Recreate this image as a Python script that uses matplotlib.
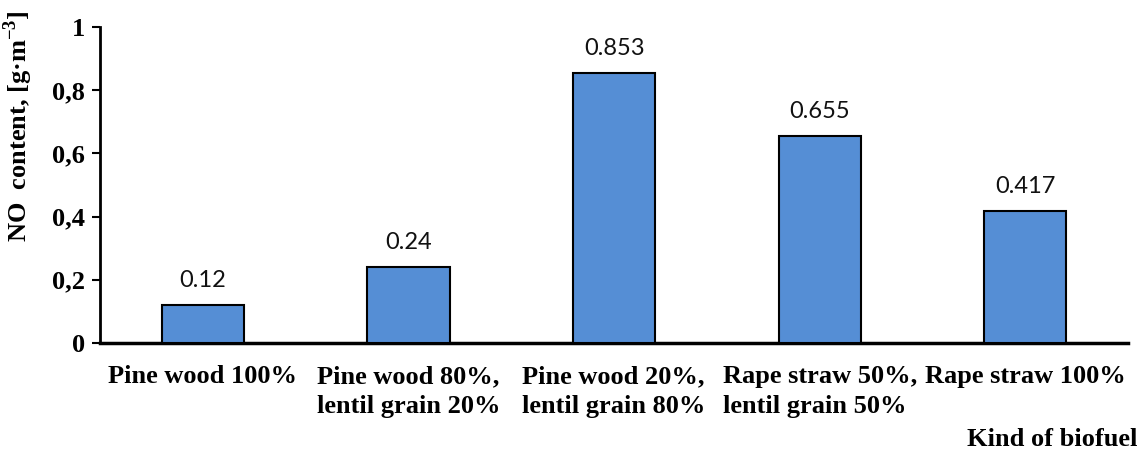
import matplotlib
matplotlib.use("Agg")
import matplotlib.pyplot as plt

categories = ["Pine wood 100%", "Pine wood 80%,\nlentil grain 20%", "Pine wood 20%,\nlentil grain 80%",
              "Rape straw 50%,\nlentil grain 50%", "Rape straw 100%"]
values = [0.12, 0.24, 0.853, 0.655, 0.417]
value_labels = ["0.12", "0.24", "0.853", "0.655", "0.417"]
yticks = [0, 0.2, 0.4, 0.6, 0.8, 1.0]
ytick_labels = ["0", "0,2", "0,4", "0,6", "0,8", "1"]

plt.rcParams['mathtext.fontset'] = 'custom'
plt.rcParams['mathtext.rm'] = 'Liberation Serif'
plt.rcParams['mathtext.bf'] = 'Liberation Serif:bold'

FS = 19

fig = plt.figure(figsize=(11.45, 4.5), dpi=100)
ax = fig.add_axes([0.0873, 0.238, 0.898, 0.702])

x = list(range(len(categories)))
ax.bar(x, values, width=0.4, color="#558ED5", edgecolor="black", linewidth=1.5, zorder=3)
for xi, v, lab in zip(x, values, value_labels):
    ax.text(xi, v + 0.045, lab, ha="center", va="bottom", fontsize=17, family="Lato", color="#111111")

ax.set_xlim(-0.5, 4.5)
ax.set_ylim(0, 1)
ax.set_yticks(yticks)
ax.set_yticklabels(ytick_labels, fontsize=FS, fontweight="bold", family="Liberation Serif")
ax.set_xticks(x)
ax.set_xticklabels(categories, fontsize=FS, fontweight="bold", family="Liberation Serif",
                   linespacing=1.4, multialignment="left")
ax.tick_params(axis="x", length=0, pad=16)
ax.tick_params(axis="y", length=6, width=1.5, direction="out", pad=5)
for s in ["top", "right"]:
    ax.spines[s].set_visible(False)
ax.spines["left"].set_linewidth(2)
ax.spines["bottom"].set_linewidth(2.5)

ax.set_ylabel(r"NO  content, [g·m$^{\mathbf{-3}}$]", fontsize=FS, fontweight="bold", family="Liberation Serif")
ax.yaxis.set_label_coords(-0.063, 0.687)
fig.text(0.993, 0.009, "Kind of biofuel", ha="right", va="baseline", fontsize=FS, fontweight="bold", family="Liberation Serif")

fig.savefig("out.png", dpi=100)
